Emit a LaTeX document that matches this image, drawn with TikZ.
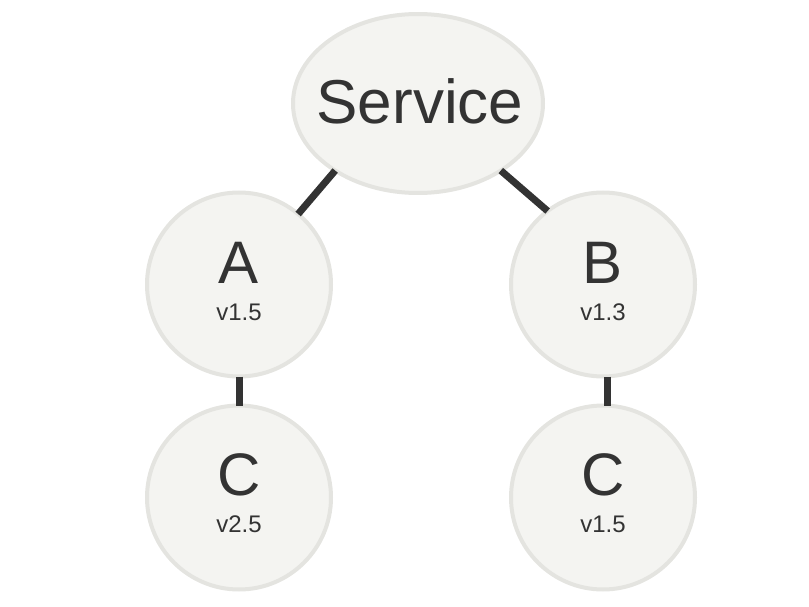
\documentclass[tikz,border=0pt]{standalone}
\usepackage{fontspec}
\setmainfont{Liberation Sans}
\usetikzlibrary{shapes.geometric}
\definecolor{nodefill}{HTML}{F4F4F1}
\definecolor{nodeborder}{HTML}{E4E4E0}
\definecolor{ink}{HTML}{333333}
\begin{document}
\begin{tikzpicture}[x=1pt,y=-1pt,
  bubble/.style={circle,fill=nodefill,draw=nodeborder,line width=4pt,minimum size=184pt,inner sep=0pt,text=ink,align=center,outer sep=0pt},
  svc/.style={ellipse,fill=nodefill,draw=nodeborder,line width=4pt,minimum width=250pt,minimum height=179pt,inner sep=0pt,outer sep=0pt},
  big/.style={text=ink,inner sep=0pt,font=\fontsize{60}{60}\selectfont},
  small/.style={text=ink,inner sep=0pt,font=\fontsize{24}{24}\selectfont},
  link/.style={draw=ink,line width=7pt}]
\useasboundingbox (0,0) rectangle (809,607);
\node[svc] (S) at (418,103.5) {};
\node[big,font=\fontsize{62}{62}\selectfont] (St) at (420,101) {Service};
\node[bubble] (A) at (239,284.5) {};
\node[bubble] (B) at (603,284.5) {};
\node[bubble] (C1) at (239,497.5) {};
\node[bubble] (C2) at (603,497.5) {};
\node[big] (At) at (239,263) {A};
\node[small] (Av) at (239,312) {v1.5};
\node[big] (Bt) at (603,263) {B};
\node[small] (Bv) at (603,312) {v1.3};
\node[big] (C1t) at (239,475) {C};
\node[small] (C1v) at (239,524) {v2.5};
\node[big] (C2t) at (603,475) {C};
\node[small] (C2v) at (603,524) {v1.5};
\draw[link] (S.219.8) -- (A.50.4);
\draw[link] (S.321.3) -- (B.127.4);
\draw[link] (A) -- (C1);
\draw[link] ([xshift=4pt]B.south) -- ([xshift=4pt]C2.north);
\end{tikzpicture}
\end{document}
